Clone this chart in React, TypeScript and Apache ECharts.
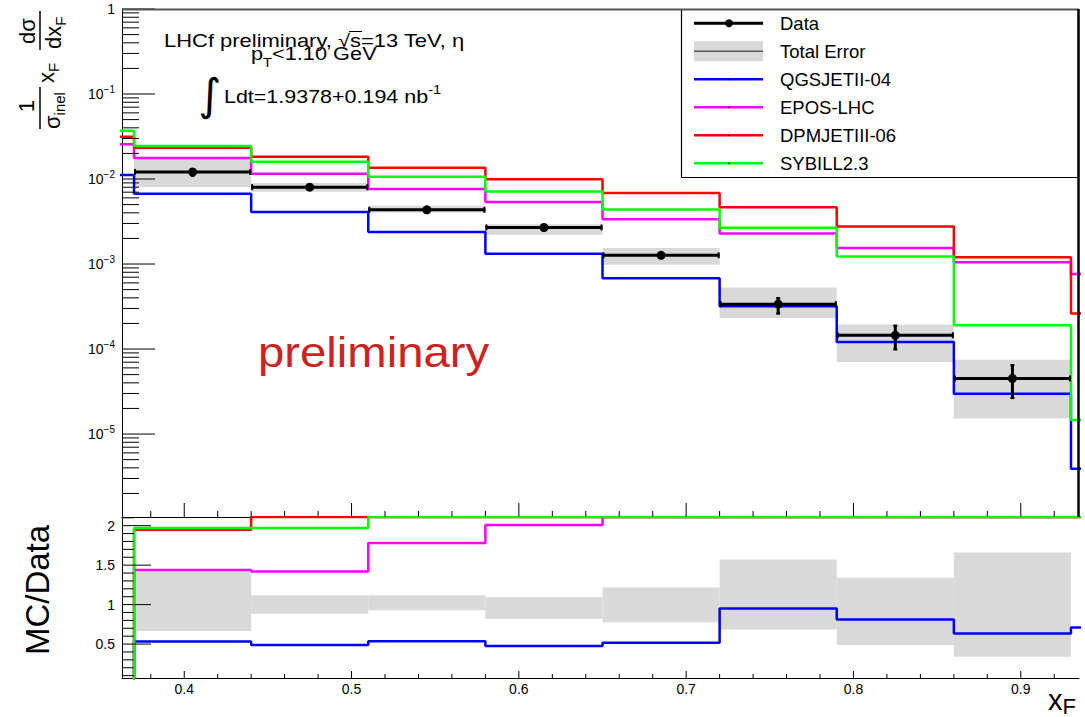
import React, { useEffect, useRef } from "react";
import * as echarts from "echarts";

// ---------- data ----------
const binEdges = [0.30, 0.37, 0.44, 0.51, 0.58, 0.65, 0.72, 0.79, 0.86, 0.93, 1.0];
const dataBinLo = [0.37, 0.44, 0.51, 0.58, 0.65, 0.72, 0.79, 0.86];
const dataBinHi = [0.44, 0.51, 0.58, 0.65, 0.72, 0.79, 0.86, 0.93];
const dataValues = [0.01211, 0.00801, 0.00434, 0.00269, 0.001265, 3.37e-4, 1.45e-4, 4.5e-5];
const statHi = [0.01339, 0.0083, 0.00445, 0.00275, 0.00131, 4.07e-4, 1.93e-4, 6.62e-5];
const statLo = [0.01067, 0.0077, 0.00423, 0.00263, 0.00122, 2.55e-4, 9.66e-5, 2.58e-5];
const totErrHiRatio = [1.42, 1.12, 1.12, 1.094, 1.217, 1.57, 1.34, 1.66];
const totErrLoRatio = [0.665, 0.885, 0.93, 0.82, 0.776, 0.686, 0.487, 0.338];

const qgsjet = [0.01117, 0.00669, 0.00408, 0.00238, 0.001324, 6.8e-4, 3.19e-4, 1.21e-4, 2.97e-5, 3.9e-6];
const epos = [0.0256, 0.01767, 0.01157, 0.00765, 0.00535, 0.003374, 0.00229, 0.001545, 0.001047, 7.65e-4];
const dpmjet = [0.0314, 0.02333, 0.01832, 0.0136, 0.00994, 0.00687, 0.00467, 0.00277, 0.0012, 2.62e-4];
const sybill = [0.0369, 0.02443, 0.016, 0.0106, 0.00711, 0.00438, 0.00267, 0.00123, 1.91e-4, 1.46e-5];

const qgsjetRatio = [0, 0.534, 0.487, 0.536, 0.474, 0.516, 0.95, 0.81, 0.635, 0.71];
const eposRatio = [0, 1.44, 1.42, 1.78, 2.01, 2.67, 6.8, 10.7, 23, 139];
const dpmjetRatio = [0, 1.95, 2.29, 3.1, 3.7, 5.4, 13.9, 19, 27, 48];
const sybillRatio = [0, 1.97, 1.97, 2.44, 2.64, 3.46, 7.9, 8.5, 4.2, 2.7];

const modelNames = ["QGSJETII-04", "EPOS-LHC", "DPMJETIII-06", "SYBILL2.3"];
const modelColors = ["#0000ff", "#ff00ff", "#ff0000", "#00ff00"];
const legendLabels = ["Data", "Total Error", ...modelNames];

const xMajorTicks = [0.4, 0.5, 0.6, 0.7, 0.8, 0.9];
const xMinorTicks = [0.38, 0.42, 0.44, 0.46, 0.48, 0.52, 0.54, 0.56, 0.58, 0.62, 0.64, 0.66, 0.68, 0.72, 0.74, 0.76, 0.78, 0.82, 0.84, 0.86, 0.88, 0.92];
const xTickLabels = ["0.4", "0.5", "0.6", "0.7", "0.8", "0.9"];
const yTopMajorTicks = [1e-5, 1e-4, 1e-3, 1e-2, 1e-1, 1];
const yTopExponents = [-5, -4, -3, -2, -1, 0];
const yTopMantissas = [2, 3, 4, 5, 6, 7, 8, 9];
const yTopDecades = [1e-6, 1e-5, 1e-4, 1e-3, 1e-2, 1e-1];
const yRatioMajorTicks = [0.5, 1, 1.5, 2];
const yRatioTickLabels = ["0.5", "1", "1.5", "2"];
const yRatioMinorTicks = [0.1, 0.2, 0.3, 0.4, 0.6, 0.7, 0.8, 0.9, 1.1, 1.2, 1.3, 1.4, 1.6, 1.7, 1.8, 1.9, 2.1];

const xMin = 0.3628, xMax = 0.9348;
const yTopMin = 1.057e-6, yTopMax = 1;
const ratioMin = 0.07, ratioMax = 2.11;

const FONT = "'Liberation Sans', Arial, Helvetica, sans-serif";

function stepPoints(values: number[]) {
  const pts: number[][] = [];
  values.forEach((v, i) => {
    pts.push([binEdges[i], v]);
    pts.push([binEdges[i + 1], v]);
  });
  return pts;
}

function tickSeries(xi: number, yi: number, items: number[][], dir: "right" | "up", len: number) {
  return {
    type: "custom", xAxisIndex: xi, yAxisIndex: yi, silent: true, z: 20,
    encode: { x: 0, y: 1 },
    data: items,
    renderItem: (_p: any, api: any) => {
      const p = api.coord([api.value(0), api.value(1)]);
      const dx = dir === "right" ? len : 0;
      const dy = dir === "up" ? -len : 0;
      return { type: "line", shape: { x1: p[0], y1: p[1], x2: p[0] + dx, y2: p[1] + dy }, style: { stroke: "#000", lineWidth: 1 } };
    },
  };
}

function labelSeries(xi: number, yi: number, items: any[][], pos: "left" | "below", rich?: any) {
  return {
    type: "custom", xAxisIndex: xi, yAxisIndex: yi, silent: true, z: 20,
    encode: { x: 0, y: 1 },
    data: items,
    renderItem: (params: any, api: any) => {
      const it = items[params.dataIndex];
      const p = api.coord([it[0], it[1]]);
      return {
        type: "text",
        x: pos === "left" ? p[0] - 7 : p[0],
        y: pos === "left" ? p[1] : p[1] + 11,
        style: {
          text: it[2], font: `14px ${FONT}`, fill: "#000",
          align: pos === "left" ? "right" : "center", verticalAlign: "middle",
          lineHeight: 20, rich,
        },
      };
    },
  };
}

const supRich = { sup: { fontSize: 10, lineHeight: 10, verticalAlign: "top", fontFamily: FONT } };

function buildOption() {
  const yTopMinor: number[][] = [];
  yTopDecades.forEach((d) => yTopMantissas.forEach((m) => {
    const v = m * d;
    if (v >= yTopMin && v <= yTopMax) yTopMinor.push([xMin, v]);
  }));

  const series: any[] = [];
  // top total error band
  series.push({
    type: "custom", name: "Total Error", xAxisIndex: 0, yAxisIndex: 0, z: 1,
    encode: { x: [0, 1], y: [2, 3] },
    data: dataBinLo.map((lo, i) => [lo, dataBinHi[i], dataValues[i] * totErrLoRatio[i], dataValues[i] * totErrHiRatio[i]]),
    renderItem: (_p: any, api: any) => {
      const a = api.coord([api.value(0), api.value(3)]);
      const b = api.coord([api.value(1), api.value(2)]);
      return { type: "rect", shape: { x: a[0], y: a[1], width: b[0] - a[0], height: b[1] - a[1] }, style: { fill: "#d9d9d9" } };
    },
  });
  // bottom total error band
  series.push({
    type: "custom", name: "Total Error ratio", xAxisIndex: 1, yAxisIndex: 1, z: 1,
    encode: { x: [0, 1], y: [2, 3] },
    data: dataBinLo.map((lo, i) => [lo, dataBinHi[i], totErrLoRatio[i], totErrHiRatio[i]]),
    renderItem: (_p: any, api: any) => {
      const a = api.coord([api.value(0), api.value(3)]);
      const b = api.coord([api.value(1), api.value(2)]);
      return { type: "rect", shape: { x: a[0], y: a[1], width: b[0] - a[0], height: b[1] - a[1] }, style: { fill: "#d9d9d9" } };
    },
  });
  const topModels = [qgsjet, epos, dpmjet, sybill];
  const ratioModels = [qgsjetRatio, eposRatio, dpmjetRatio, sybillRatio];
  topModels.forEach((vals, k) => {
    series.push({
      type: "line", name: modelNames[k], xAxisIndex: 0, yAxisIndex: 0, z: 3 + k,
      data: stepPoints(vals), symbol: "none", showSymbol: false, clip: true,
      lineStyle: { color: modelColors[k], width: 2.5 }, itemStyle: { color: modelColors[k] },
    });
  });
  ratioModels.forEach((vals, k) => {
    series.push({
      type: "line", name: modelNames[k] + " / Data", xAxisIndex: 1, yAxisIndex: 1, z: 3 + k,
      data: stepPoints(vals.map((v) => Math.min(v, ratioMax))), symbol: "none", showSymbol: false, clip: true,
      lineStyle: { color: modelColors[k], width: 2.5 }, itemStyle: { color: modelColors[k] },
    });
  });
  // data points
  series.push({
    type: "custom", name: "Data", xAxisIndex: 0, yAxisIndex: 0, z: 10,
    encode: { x: [0, 1], y: [2, 3, 4] },
    data: dataBinLo.map((lo, i) => [lo, dataBinHi[i], dataValues[i], statLo[i], statHi[i]]),
    renderItem: (_p: any, api: any) => {
      const lo = api.value(0), hi = api.value(1), v = api.value(2), sl = api.value(3), sh = api.value(4);
      const mid = (lo + hi) / 2;
      const a = api.coord([lo, v]), b = api.coord([hi, v]), c = api.coord([mid, v]);
      const t = api.coord([mid, sh]), d = api.coord([mid, sl]);
      const bl = { stroke: "#000", lineWidth: 3 };
      return {
        type: "group",
        children: [
          { type: "line", shape: { x1: a[0], y1: a[1], x2: b[0], y2: b[1] }, style: bl },
          { type: "line", shape: { x1: a[0] + 1, y1: a[1] - 3, x2: a[0] + 1, y2: a[1] + 3 }, style: { stroke: "#000", lineWidth: 2 } },
          { type: "line", shape: { x1: b[0] - 1, y1: b[1] - 3, x2: b[0] - 1, y2: b[1] + 3 }, style: { stroke: "#000", lineWidth: 2 } },
          { type: "line", shape: { x1: t[0], y1: t[1], x2: d[0], y2: d[1] }, style: bl },
          { type: "line", shape: { x1: t[0] - 2, y1: t[1] + 1, x2: t[0] + 2, y2: t[1] + 1 }, style: { stroke: "#000", lineWidth: 2 } },
          { type: "line", shape: { x1: d[0] - 2, y1: d[1] - 1, x2: d[0] + 2, y2: d[1] - 1 }, style: { stroke: "#000", lineWidth: 2 } },
          { type: "circle", shape: { cx: c[0], cy: c[1], r: 4.5 }, style: { fill: "#000" } },
        ],
      };
    },
  });
  // ticks and labels
  series.push(tickSeries(0, 0, yTopMajorTicks.map((v) => [xMin, v]), "right", 33));
  series.push(tickSeries(0, 0, yTopMinor, "right", 17));
  series.push(tickSeries(0, 0, xMajorTicks.map((v) => [v, yTopMin]), "up", 14));
  series.push(tickSeries(0, 0, xMinorTicks.map((v) => [v, yTopMin]), "up", 6));
  series.push(tickSeries(1, 1, yRatioMajorTicks.map((v) => [xMin, v]), "right", 29));
  series.push(tickSeries(1, 1, yRatioMinorTicks.map((v) => [xMin, v]), "right", 12));
  series.push(tickSeries(1, 1, xMajorTicks.map((v) => [v, ratioMin]), "up", 7));
  series.push(tickSeries(1, 1, xMinorTicks.map((v) => [v, ratioMin]), "up", 4));
  series.push(labelSeries(0, 0, yTopMajorTicks.map((v, i) => [xMin, v, yTopExponents[i] === 0 ? "1" : `10{sup|\u2212${-yTopExponents[i]}}`]), "left", supRich));
  series.push(labelSeries(1, 1, yRatioMajorTicks.map((v, i) => [xMin, v, yRatioTickLabels[i]]), "left"));
  series.push(labelSeries(1, 1, xMajorTicks.map((v, i) => [v, ratioMin, xTickLabels[i]]), "below"));

  const axisCommon = {
    axisTick: { show: false }, axisLabel: { show: false }, splitLine: { show: false },
    axisLine: { show: true, onZero: false, lineStyle: { color: "#000", width: 1 } },
  };

  // legend drawn as graphic
  const legendChildren: any[] = [
    { type: "rect", shape: { x: 681.5, y: 9.5, width: 397, height: 168 }, style: { fill: "#fff", stroke: "#000", lineWidth: 1.2 } },
  ];
  legendLabels.forEach((name, i) => {
    const y = 23.3 + 28 * i;
    if (i === 0) {
      legendChildren.push({ type: "line", shape: { x1: 694, y1: y, x2: 763, y2: y }, style: { stroke: "#000", lineWidth: 3 } });
      legendChildren.push({ type: "circle", shape: { cx: 729, cy: y, r: 4 }, style: { fill: "#000" } });
    } else if (i === 1) {
      legendChildren.push({ type: "rect", shape: { x: 694, y: y - 10, width: 69, height: 20 }, style: { fill: "#d9d9d9" } });
      legendChildren.push({ type: "line", shape: { x1: 694, y1: y, x2: 763, y2: y }, style: { stroke: "#555", lineWidth: 1.5 } });
    } else {
      legendChildren.push({ type: "line", shape: { x1: 694, y1: y, x2: 763, y2: y }, style: { stroke: modelColors[i - 2], lineWidth: 2.5 } });
      legendChildren.push({ type: "circle", shape: { cx: 729, cy: y, r: 0.8 }, style: { fill: "#000" } });
    }
    legendChildren.push({ type: "text", x: 780, y, style: { text: name, font: `18.5px ${FONT}`, fill: "#000", align: "left", verticalAlign: "middle" } });
  });

  const subRich = (fs: number, lh: number) => ({ sub: { fontSize: fs, lineHeight: lh, verticalAlign: "bottom", fontFamily: FONT } });

  const graphic: any[] = [
    { type: "line", z: 50, shape: { x1: 122, y1: 9.5, x2: 1079, y2: 9.5 }, style: { stroke: "#555", lineWidth: 2 } },
    { type: "line", z: 50, shape: { x1: 1078.5, y1: 9, x2: 1078.5, y2: 517 }, style: { stroke: "#000", lineWidth: 2.5 } },
    { type: "group", z: 60, children: legendChildren },
    { type: "text", z: 60, x: 164, y: 41, scaleX: 1.22, style: { text: "LHCf preliminary, \u221As=13 TeV, \u03b7", font: `18px ${FONT}`, fill: "#000", align: "left", verticalAlign: "middle" } },
    { type: "line", z: 60, shape: { x1: 349, y1: 31.5, x2: 362, y2: 31.5 }, style: { stroke: "#000", lineWidth: 1 } },
    { type: "text", z: 60, x: 251, y: 54, scaleX: 1.21, style: { text: "p{sub|T}<1.10 GeV", font: `18px ${FONT}`, fill: "#000", align: "left", verticalAlign: "middle", lineHeight: 30, rich: subRich(12, 8) } },
    { type: "text", z: 60, x: 210, y: 94, style: { text: "\u222B", font: `44px 'DejaVu Sans', ${FONT}`, fill: "#000", align: "center", verticalAlign: "middle" } },
    { type: "text", z: 60, x: 224, y: 96, scaleX: 1.13, style: { text: "Ldt=1.9378+0.194 nb{sup|-1}", font: `19px ${FONT}`, fill: "#000", align: "left", verticalAlign: "middle", lineHeight: 26, rich: { sup: { fontSize: 13, lineHeight: 10, verticalAlign: "top", fontFamily: FONT } } } },
    { type: "text", z: 60, x: 258, y: 352, scaleX: 1.1, style: { text: "preliminary", font: `43px ${FONT}`, fill: "#cc2222", align: "left", verticalAlign: "middle" } },
    { type: "text", z: 60, x: 1048, y: 700, style: { text: "x{sub|F}", font: `29px ${FONT}`, fill: "#000", align: "left", verticalAlign: "middle", lineHeight: 34, rich: subRich(22, 12) } },
    {
      type: "group", z: 60, x: 40, y: 590, rotation: Math.PI / 2,
      children: [
        { type: "text", x: 0, y: -3, style: { text: "MC/Data", font: `33px ${FONT}`, fill: "#000", align: "center", verticalAlign: "middle" } },
      ],
    },
    {
      type: "group", z: 60, x: 40, y: 132, rotation: Math.PI / 2,
      children: [
        { type: "text", x: 26, y: -14, style: { text: "1", font: `22px ${FONT}`, fill: "#000", align: "center", verticalAlign: "middle" } },
        { type: "line", shape: { x1: 3, y1: 0, x2: 45, y2: 0 }, style: { stroke: "#000", lineWidth: 1.5 } },
        { type: "text", x: 3, y: 12, style: { text: "\u03c3{sub|inel}", font: `22px ${FONT}`, fill: "#000", align: "left", verticalAlign: "middle", lineHeight: 30, rich: subRich(15, 8) } },
        { type: "text", x: 49, y: 6, style: { text: "x{sub|F}", font: `22px ${FONT}`, fill: "#000", align: "left", verticalAlign: "middle", lineHeight: 30, rich: subRich(15, 8) } },
        { type: "line", shape: { x1: 82, y1: 0, x2: 121, y2: 0 }, style: { stroke: "#000", lineWidth: 1.5 } },
        { type: "text", x: 101, y: -13, style: { text: "d\u03c3", font: `22px ${FONT}`, fill: "#000", align: "center", verticalAlign: "middle" } },
        { type: "text", x: 83, y: 13, style: { text: "dx{sub|F}", font: `22px ${FONT}`, fill: "#000", align: "left", verticalAlign: "middle", lineHeight: 30, rich: subRich(15, 8) } },
      ],
    },
  ];

  return {
    animation: false,
    backgroundColor: "#fff",
    grid: [
      { left: 122, top: 9, width: 957, height: 508 },
      { left: 122, top: 517, width: 957, height: 161 },
    ],
    xAxis: [
      { gridIndex: 0, type: "value", min: xMin, max: xMax, ...axisCommon },
      { gridIndex: 1, type: "value", min: xMin, max: xMax, ...axisCommon },
    ],
    yAxis: [
      { gridIndex: 0, type: "log", logBase: 10, min: yTopMin, max: yTopMax, ...axisCommon },
      { gridIndex: 1, type: "value", min: ratioMin, max: ratioMax, ...axisCommon },
    ],
    series,
    graphic,
  };
}

export default function App() {
  const ref = useRef<HTMLDivElement>(null);
  useEffect(() => {
    if (!ref.current) return;
    const chart = echarts.init(ref.current, null, { renderer: "svg" });
    chart.setOption(buildOption() as any);
    return () => chart.dispose();
  }, []);
  return (
    <div
      ref={ref}
      style={{ position: "absolute", left: 0, top: 0, width: 1085, height: 717, background: "#fff" }}
    />
  );
}
